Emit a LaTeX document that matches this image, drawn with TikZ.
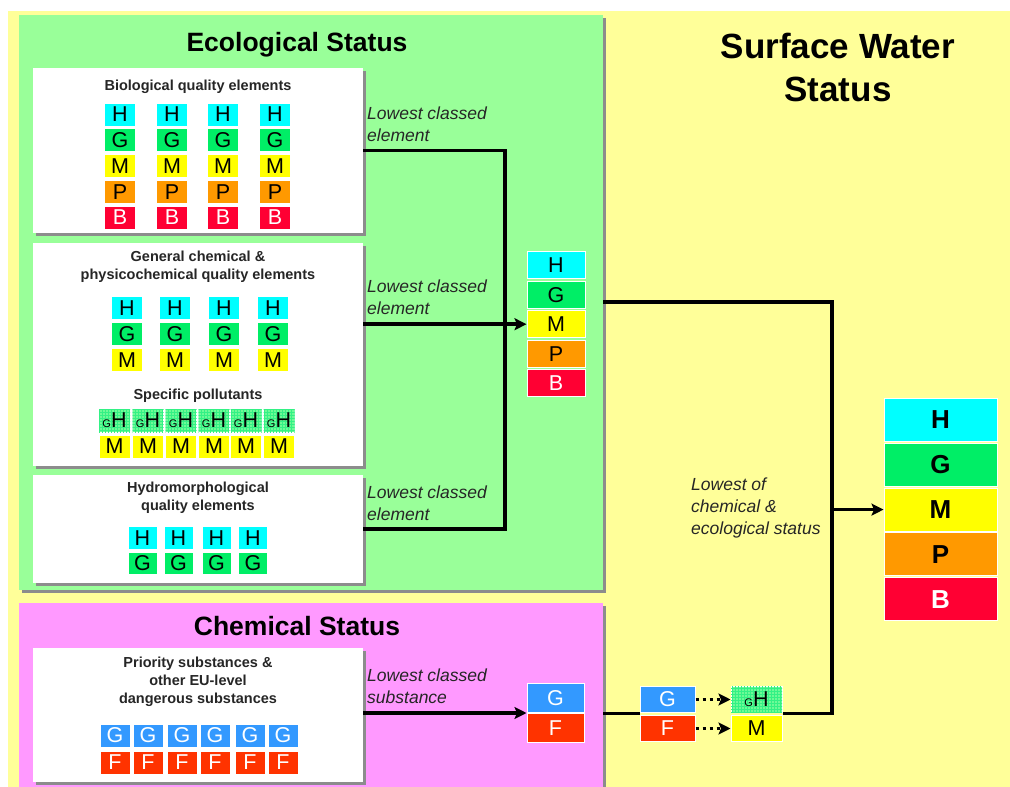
\documentclass[tikz,border=0pt]{standalone}
\usepackage{fontspec}
\setmainfont{Liberation Sans}
\usetikzlibrary{arrows.meta,positioning,shadows,patterns}
\definecolor{cH}{RGB}{0,255,255}
\definecolor{cG}{RGB}{0,238,102}
\definecolor{cM}{RGB}{255,255,0}
\definecolor{cP}{RGB}{255,153,0}
\definecolor{cB}{RGB}{255,0,51}
\definecolor{cgood}{RGB}{51,153,255}
\definecolor{cfail}{RGB}{255,51,0}
\definecolor{cgH}{RGB}{110,250,150}
\definecolor{bgyellow}{RGB}{255,255,153}
\definecolor{bggreen}{RGB}{153,255,153}
\definecolor{bgpink}{RGB}{255,153,255}
\tikzset{
    %Define standard arrow tip
    >={Stealth[length=12pt, width=12pt, inset=2.5pt]},
    %Define style for panels and boxes
    panel/.style={
           rectangle,
           anchor=north west,
           inner sep=0pt,
           drop shadow={shadow xshift=3pt, shadow yshift=-3pt, fill=black!45, opacity=1}},
    group/.style={
           panel,
           fill=white},
    bigtitle/.style={
           font=\fontsize{26.5}{32}\selectfont\bfseries},
    headline/.style={
           font=\fontsize{14.5}{18}\selectfont\bfseries,
           text=black!85,
           align=center},
    lab/.style={
           font=\fontsize{17.5}{22}\selectfont\itshape,
           text=black!85,
           align=left,
           anchor=west,
           inner sep=0pt},
    %Define style for grade cells
    grade/.style={
           rectangle,
           draw=white, line width=1pt,
           inner sep=0pt,
           minimum width=31pt,
           minimum height=23pt,
           font=\fontsize{21.5}{21.5}\selectfont},
    hh/.style={grade, fill=cH},
    gg/.style={grade, fill=cG},
    mm/.style={grade, fill=cM},
    pp/.style={grade, fill=cP},
    bb/.style={grade, fill=cB, text=white},
    good/.style={grade, fill=cgood, text=white},
    fail/.style={grade, fill=cfail, text=white},
    gh/.style={grade, fill=cgH, postaction={pattern=grid, pattern color=cG!80}},
    ecocell/.style={minimum width=58pt, minimum height=27pt},
    swcell/.style={minimum width=113pt, minimum height=43pt, font=\fontsize{26}{26}\selectfont\bfseries},
    % Define line styles
    wire/.style={
           line width=3.5pt},
    dots/.style={
           line width=3.5pt,
           dash pattern=on 3.5pt off 3.5pt}
}
\newcommand{\gH}{{\fontsize{11}{11}\selectfont G}H}
\begin{document}
\begin{tikzpicture}[x=1pt,y=-1pt]
\useasboundingbox (0,0) rectangle (1010,787);

 %panels
\fill[bgyellow] (8,11) rectangle (1010,787);
\node[panel, fill=bggreen, minimum width=584pt, minimum height=575pt] (eco) at (19,15) {};
\node[panel, fill=bgpink, minimum width=584pt, minimum height=195pt] (chem) at (19,603) {};

\node[bigtitle] (ecotitle) at (297,45) {Ecological Status};
\node[bigtitle] (chemtitle) at (297,626) {Chemical Status};
\node[bigtitle, font=\fontsize{35}{43}\selectfont\bfseries, align=center] (swtitle) at (838,67) {Surface Water\\Status};

 %white boxes
\node[group, minimum width=330pt, minimum height=165pt] (bio) at (33,68) {};
\node[group, minimum width=330pt, minimum height=223pt] (gen) at (33,243) {};
\node[group, minimum width=330pt, minimum height=108pt] (hydro) at (33,475) {};
\node[group, minimum width=330pt, minimum height=134pt] (prio) at (33,648) {};

\node[headline] (biohead) at (198,87) {Biological quality elements};
\node[headline] (genhead) at (198,267) {General chemical \&\\physicochemical quality elements};
\node[headline] (spechead) at (198,396) {Specific pollutants};
\node[headline] (hydrohead) at (198,498) {Hydromorphological\\quality elements};
\node[headline] (priohead) at (198,682) {Priority substances \&\\other EU-level\\dangerous substances};

 %grade cells
\foreach \x [count=\i] in {120,172,223,275}{
  \node[hh] (bioH\i) at (\x,114.5) {H};
  \node[gg, below=1.75pt of bioH\i] (bioG\i) {G};
  \node[mm, below=1.75pt of bioG\i] (bioM\i) {M};
  \node[pp, below=1.75pt of bioM\i] (bioP\i) {P};
  \node[bb, below=1.75pt of bioP\i] (bioB\i) {B};
}
\foreach \x [count=\i] in {127,175,224,273}{
  \node[hh] (genH\i) at (\x,308) {H};
  \node[gg, below=2pt of genH\i] (genG\i) {G};
  \node[mm, below=2pt of genG\i] (genM\i) {M};
}
\foreach \x [count=\i] in {114.5,148,181,214,246,279}{
  \node[gh] (specH\i) at (\x,420.5) {\gH};
  \node[mm, below=2pt of specH\i] (specM\i) {M};
}
\foreach \x [count=\i] in {142.5,178.5,216.5,253}{
  \node[hh, minimum width=29pt, minimum height=22.5pt] (hydroH\i) at (\x,538) {H};
  \node[gg, minimum width=29pt, minimum height=22.5pt, below=2pt of hydroH\i] (hydroG\i) {G};
}
\foreach \x [count=\i] in {115,148,182,215,250,283}{
  \node[good, minimum width=30pt] (prioG\i) at (\x,735.5) {G};
  \node[fail, minimum width=30pt, below=3pt of prioG\i] (prioF\i) {F};
}

 %ecological result
\node[hh, ecocell] (ecoH) at (556,265) {H};
\node[gg, ecocell, below=1.6pt of ecoH] (ecoG) {G};
\node[mm, ecocell, below=1.6pt of ecoG] (ecoM) {M};
\node[pp, ecocell, below=1.6pt of ecoM] (ecoP) {P};
\node[bb, ecocell, below=1.6pt of ecoP] (ecoB) {B};

 %chemical result
\node[good, minimum width=57pt, minimum height=29pt] (chemG) at (555.5,698) {G};
\node[fail, minimum width=57pt, minimum height=29pt, below=0pt of chemG] (chemF) {F};
\node[good, minimum width=55pt, minimum height=26.5pt] (pG) at (667.5,699.5) {G};
\node[fail, minimum width=55pt, minimum height=26.5pt, below=1.5pt of pG] (pF) {F};
\node[gh, minimum width=51pt, minimum height=26.5pt] (qH) at (756.5,699.5) {\gH};
\node[mm, minimum width=51pt, minimum height=26.5pt, below=1.5pt of qH] (qM) {M};

 %surface water result
\node[hh, swcell] (swH) at (940.5,420) {H};
\node[gg, swcell, below=0.8pt of swH] (swG) {G};
\node[mm, swcell, below=0.8pt of swG] (swM) {M};
\node[pp, swcell, below=0.8pt of swM] (swP) {P};
\node[bb, swcell, below=0.8pt of swP] (swB) {B};

 %labels
\node[lab] (lab1) at (367,124) {Lowest classed\\element};
\node[lab] (lab2) at (367,297) {Lowest classed\\element};
\node[lab] (lab3) at (367,503) {Lowest classed\\element};
\node[lab] (lab4) at (367,686) {Lowest classed\\substance};
\node[lab] (lab5) at (691,508) {Lowest of\\chemical \&\\ecological status};

 %connectors
\coordinate (join) at (505,322);
\coordinate (ecoout) at (603,302);
\coordinate (top) at (832,302);
\draw[wire] (bio.east) -| (join);
\draw[wire] (hydro.east) -| (join);
\draw[wire,->] (gen.east |- ecoM) -- (ecoM);
\draw[wire,->] (prio.east |- chemG.south) -- (chemG.south west);
\draw[wire] (chem.east |- pG.south) -- (pG.south west);
\draw[dots,->] (pG) -- (qH);
\draw[dots,->] (pF) -- (qM);
\draw[wire] (ecoout) -- (top) |- (qH.south east);
\draw[wire,->] (top |- swM) -- (swM);

\end{tikzpicture}
\end{document}
